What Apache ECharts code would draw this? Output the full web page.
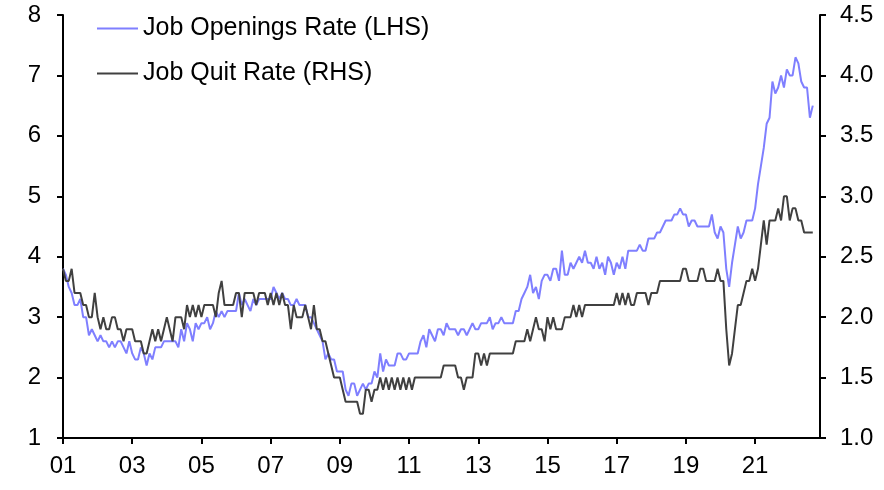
<!DOCTYPE html>
<html>
<head>
<meta charset="utf-8">
<script src="https://cdn.jsdelivr.net/npm/echarts@6/dist/echarts.min.js"></script>
<style>
  html, body { margin: 0; padding: 0; background: #fff; }
  #main { width: 884px; height: 490px; }
</style>
</head>
<body>
<div id="main"></div>
<script>
  // monthly data, Jan 2001 .. Sep 2022
  const startYear = 2001
  const tickYears = [2001, 2003, 2005, 2007, 2009, 2011, 2013, 2015, 2017, 2019, 2021]

  // job openings rate, % (LHS)
  const openings = [
    3.8, 3.7, 3.5, 3.4, 3.2, 3.2, 3.3, 3.0, 3.0, 2.7, 2.8, 2.7, // 2001
    2.6, 2.7, 2.6, 2.6, 2.5, 2.6, 2.5, 2.6, 2.6, 2.5, 2.4, 2.6, // 2002
    2.4, 2.3, 2.3, 2.5, 2.4, 2.2, 2.4, 2.3, 2.5, 2.5, 2.5, 2.6, // 2003
    2.6, 2.6, 2.6, 2.6, 2.5, 2.8, 2.6, 2.9, 2.8, 2.6, 2.9, 2.8, // 2004
    2.9, 2.9, 3.0, 2.8, 2.9, 3.1, 3.0, 3.1, 3.0, 3.1, 3.1, 3.1, // 2005
    3.1, 3.4, 3.2, 3.3, 3.2, 3.1, 3.3, 3.2, 3.3, 3.3, 3.3, 3.3, // 2006
    3.3, 3.5, 3.4, 3.3, 3.4, 3.3, 3.3, 3.2, 3.2, 3.3, 3.2, 3.2, // 2007
    3.2, 3.0, 3.0, 2.9, 2.8, 2.7, 2.6, 2.3, 2.4, 2.3, 2.3, 2.1, // 2008
    2.1, 2.1, 1.8, 1.7, 1.9, 1.9, 1.7, 1.8, 1.9, 1.8, 1.9, 1.9, // 2009
    2.1, 2.0, 2.4, 2.1, 2.3, 2.2, 2.2, 2.2, 2.4, 2.4, 2.3, 2.3, // 2010
    2.4, 2.4, 2.4, 2.4, 2.6, 2.7, 2.5, 2.8, 2.7, 2.6, 2.8, 2.8, // 2011
    2.7, 2.9, 2.8, 2.8, 2.8, 2.7, 2.8, 2.8, 2.7, 2.8, 2.9, 2.8, // 2012
    2.8, 2.9, 2.9, 2.9, 3.0, 2.8, 2.9, 2.9, 3.0, 2.9, 2.9, 2.9, // 2013
    2.9, 3.1, 3.1, 3.3, 3.4, 3.5, 3.7, 3.4, 3.5, 3.3, 3.6, 3.7, // 2014
    3.7, 3.6, 3.8, 3.8, 3.6, 4.1, 3.7, 3.7, 3.9, 3.8, 3.9, 4.0, // 2015
    3.9, 4.1, 3.9, 3.9, 3.8, 4.0, 3.8, 3.9, 3.7, 4.0, 3.9, 3.7, // 2016
    3.9, 3.8, 4.0, 3.8, 4.1, 4.1, 4.1, 4.1, 4.2, 4.1, 4.1, 4.3, // 2017
    4.3, 4.3, 4.4, 4.4, 4.5, 4.6, 4.6, 4.6, 4.7, 4.7, 4.8, 4.7, // 2018
    4.7, 4.5, 4.6, 4.6, 4.5, 4.5, 4.5, 4.5, 4.5, 4.7, 4.4, 4.3, // 2019
    4.5, 4.4, 3.8, 3.5, 3.9, 4.2, 4.5, 4.3, 4.4, 4.6, 4.6, 4.6, // 2020
    4.8, 5.2, 5.5, 5.8, 6.2, 6.3, 6.9, 6.7, 6.8, 7.0, 6.8, 7.1, // 2021
    7.0, 7.0, 7.3, 7.2, 6.9, 6.8, 6.8, 6.3, 6.5                 // 2022
  ]

  // job quit rate, % (RHS)
  const quits = [
    2.4, 2.3, 2.3, 2.4, 2.2, 2.2, 2.2, 2.1, 2.1, 2.0, 2.0, 2.2, // 2001
    2.0, 1.9, 2.0, 1.9, 1.9, 2.0, 2.0, 1.9, 1.9, 1.8, 1.9, 1.9, // 2002
    1.9, 1.8, 1.8, 1.8, 1.7, 1.7, 1.8, 1.9, 1.8, 1.9, 1.8, 1.9, // 2003
    2.0, 1.9, 1.8, 2.0, 2.0, 2.0, 1.9, 2.1, 2.0, 2.1, 2.0, 2.1, // 2004
    2.0, 2.1, 2.1, 2.1, 2.1, 2.0, 2.2, 2.3, 2.1, 2.1, 2.1, 2.1, // 2005
    2.2, 2.2, 2.0, 2.2, 2.2, 2.2, 2.2, 2.1, 2.2, 2.2, 2.2, 2.1, // 2006
    2.2, 2.1, 2.2, 2.1, 2.2, 2.1, 2.1, 1.9, 2.1, 2.0, 2.0, 2.0, // 2007
    2.1, 2.0, 1.9, 2.1, 1.9, 1.9, 1.8, 1.8, 1.7, 1.6, 1.5, 1.5, // 2008
    1.5, 1.4, 1.3, 1.3, 1.3, 1.3, 1.3, 1.2, 1.2, 1.4, 1.4, 1.3, // 2009
    1.4, 1.4, 1.5, 1.4, 1.5, 1.4, 1.5, 1.4, 1.5, 1.4, 1.5, 1.4, // 2010
    1.5, 1.4, 1.5, 1.5, 1.5, 1.5, 1.5, 1.5, 1.5, 1.5, 1.5, 1.5, // 2011
    1.6, 1.6, 1.6, 1.6, 1.6, 1.5, 1.5, 1.4, 1.5, 1.5, 1.5, 1.7, // 2012
    1.7, 1.6, 1.7, 1.6, 1.7, 1.7, 1.7, 1.7, 1.7, 1.7, 1.7, 1.7, // 2013
    1.7, 1.8, 1.8, 1.8, 1.8, 1.9, 1.8, 1.9, 2.0, 1.9, 1.9, 1.8, // 2014
    2.0, 1.9, 2.0, 1.9, 1.9, 1.9, 2.0, 2.0, 2.0, 2.1, 2.0, 2.1, // 2015
    2.0, 2.1, 2.1, 2.1, 2.1, 2.1, 2.1, 2.1, 2.1, 2.1, 2.1, 2.1, // 2016
    2.2, 2.1, 2.2, 2.1, 2.2, 2.1, 2.1, 2.2, 2.2, 2.2, 2.2, 2.1, // 2017
    2.2, 2.2, 2.2, 2.3, 2.3, 2.3, 2.3, 2.3, 2.3, 2.3, 2.3, 2.4, // 2018
    2.4, 2.3, 2.3, 2.3, 2.3, 2.4, 2.4, 2.3, 2.3, 2.3, 2.3, 2.4, // 2019
    2.3, 2.3, 1.9, 1.6, 1.7, 1.9, 2.1, 2.1, 2.2, 2.3, 2.3, 2.4, // 2020
    2.3, 2.4, 2.6, 2.8, 2.6, 2.8, 2.8, 2.8, 2.9, 2.8, 3.0, 3.0, // 2021
    2.8, 2.9, 2.9, 2.8, 2.8, 2.7, 2.7, 2.7, 2.7                 // 2022
  ]

  const chart = echarts.init(document.getElementById('main'))
  const font = 'Liberation Sans, Arial, sans-serif'

  // x is month index since Jan 2001
  const toPoints = (arr) => arr.map((v, i) => [i, v])
  const tickMonths = tickYears.map((y) => (y - startYear) * 12)

  let option = {
    animation: false,
    backgroundColor: '#fff',
    textStyle: {fontFamily: font},
    grid: {left: 63, right: 64, top: 15, bottom: 52},
    legend: {
      orient: 'vertical',
      left: 92,
      top: 11,
      itemGap: 20,
      itemWidth: 41,
      itemHeight: 2,
      icon: 'rect',
      textStyle: {fontSize: 25, color: '#000', fontFamily: font},
      data: ['Job Openings Rate (LHS)', 'Job Quit Rate (RHS)']
    },
    xAxis: {
      type: 'value',
      min: 0,
      max: 262.5,
      axisLine: {lineStyle: {color: '#000', width: 2}},
      axisTick: {show: true, inside: false, length: 6, lineStyle: {color: '#000', width: 2}, customValues: tickMonths},
      axisLabel: {
        color: '#000', fontSize: 24, margin: 16,
        customValues: tickMonths,
        formatter: (v) => String((startYear + Math.round(v / 12)) % 100).padStart(2, '0')
      },
      splitLine: {show: false}
    },
    yAxis: [
      {
        type: 'value',
        min: 1,
        max: 8,
        interval: 1,
        position: 'left',
        axisLine: {show: true, lineStyle: {color: '#000', width: 2}},
        axisTick: {show: true, inside: false, length: 6, lineStyle: {color: '#000', width: 2}},
        axisLabel: {color: '#000', fontSize: 24, margin: 22},
        splitLine: {show: false}
      },
      {
        type: 'value',
        min: 1,
        max: 4.5,
        interval: 0.5,
        position: 'right',
        axisLine: {show: true, lineStyle: {color: '#000', width: 2}},
        axisTick: {show: true, inside: false, length: 6, lineStyle: {color: '#000', width: 2}},
        axisLabel: {color: '#000', fontSize: 24, margin: 20, formatter: (v) => v.toFixed(1)},
        splitLine: {show: false}
      }
    ],
    series: [
      {
        name: 'Job Openings Rate (LHS)',
        type: 'line',
        yAxisIndex: 0,
        showSymbol: false,
        color: '#7f7fff',
        lineStyle: {width: 2, color: '#7f7fff'},
        data: toPoints(openings)
      },
      {
        name: 'Job Quit Rate (RHS)',
        type: 'line',
        yAxisIndex: 1,
        showSymbol: false,
        color: '#404040',
        lineStyle: {width: 2, color: '#404040'},
        data: toPoints(quits)
      }
    ]
  }
  chart.setOption(option)
</script>
</body>
</html>
